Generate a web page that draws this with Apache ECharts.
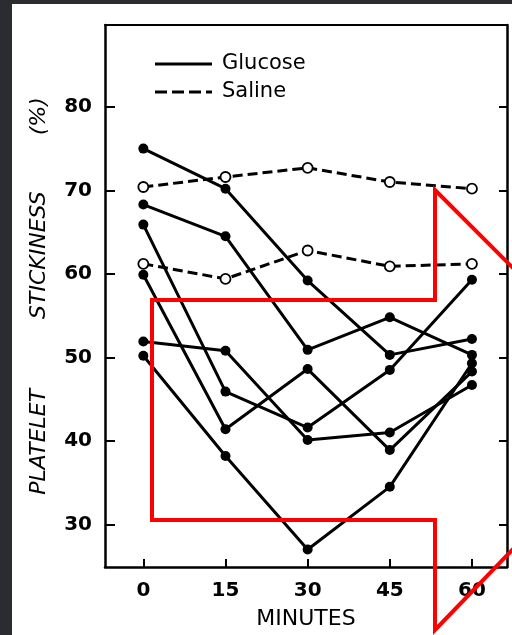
<!DOCTYPE html>
<html>
<head>
<meta charset="utf-8">
<script src="https://cdn.jsdelivr.net/npm/echarts@6/dist/echarts.min.js"></script>
<style>
  html, body { margin: 0; padding: 0; }
  body { width: 512px; height: 635px; background: #2a2c2f; position: relative; overflow: hidden; }
  #chart { position: absolute; left: 12px; top: 4px; width: 500px; height: 631px; background: #ffffff; }
</style>
</head>
<body>
<div id="chart"></div>
<script>
// ---- data ----
const minutes = [0, 15, 30, 45, 60];
const xTickValues = [0, 15, 30, 45, 60];
const yTickValues = [30, 40, 50, 60, 70, 80];

// Glucose subjects (platelet stickiness %)
const glucoseA = [75.0, 70.2, 59.2, 50.3, 52.2];
const glucoseB = [68.3, 64.5, 50.9, 54.8, 50.3];
const glucoseC = [65.9, 45.9, 41.6, 48.5, 59.3];
const glucoseD = [59.9, 41.4, 48.6, 38.9, 48.3];
const glucoseE = [51.9, 50.8, 40.1, 41.0, 46.7];
const glucoseF = [50.2, 38.2, 27.0, 34.5, 49.3];

// Saline subjects
const salineA = [70.4, 71.6, 72.7, 71.0, 70.2];
const salineB = [61.2, 59.4, 62.8, 60.9, 61.2];

const glucoseSets = [glucoseA, glucoseB, glucoseC, glucoseD, glucoseE, glucoseF];
const salineSets = [salineA, salineB];

const FONT = '"DejaVu Sans", sans-serif';
const pairs = vals => minutes.map((m, i) => [m, vals[i]]);

const series = [];
salineSets.forEach(v => series.push({
  name: 'Saline', type: 'line', data: pairs(v),
  symbol: 'circle', symbolSize: 10,
  lineStyle: { color: '#000', width: 3, type: [10, 5] },
  itemStyle: { color: '#fff', borderColor: '#000', borderWidth: 1.8 },
  z: 3, animation: false
}));
glucoseSets.forEach(v => series.push({
  name: 'Glucose', type: 'line', data: pairs(v),
  symbol: 'circle', symbolSize: 10,
  lineStyle: { color: '#000', width: 3 },
  itemStyle: { color: '#000' },
  z: 4, animation: false
}));

const chart = echarts.init(document.getElementById('chart'), null, { renderer: 'canvas' });
chart.setOption({
  backgroundColor: '#ffffff',
  animation: false,
  grid: { left: 93, right: 5, top: 21, bottom: 65 },
  legend: {
    orient: 'vertical', left: 138, top: 44,
    itemWidth: 57, itemHeight: 3, itemGap: 6,
    textStyle: { fontFamily: FONT, fontSize: 21, color: '#000', lineHeight: 22, padding: [0, 0, 0, 5] },
    data: [
      { name: 'Glucose', icon: 'path://M0 0H57V3H0Z', itemStyle: { color: '#000', borderWidth: 0 } },
      { name: 'Saline', icon: 'path://M0 0H12V3H0Z M17 0H29V3H17Z M34 0H46V3H34Z M51 0H57V3H51Z', itemStyle: { color: '#000', borderWidth: 0 } }
    ]
  },
  xAxis: [{
    type: 'value', min: -7, max: 66.4,
    name: 'MINUTES', nameLocation: 'middle', nameGap: 41,
    nameTextStyle: { fontFamily: FONT, fontSize: 22, color: '#000' },
    axisLine: { show: true, lineStyle: { color: '#000', width: 2.5 } },
    axisTick: { show: true, inside: true, length: 8, customValues: xTickValues, lineStyle: { color: '#000', width: 2 } },
    axisLabel: { customValues: xTickValues, margin: 14, fontFamily: FONT, fontSize: 20, fontWeight: 'bold', color: '#000' },
    splitLine: { show: false }
  }, {
    type: 'value', min: -7, max: 66.4, position: 'top',
    axisLine: { show: true, onZero: false, lineStyle: { color: '#000', width: 2 } },
    axisTick: { show: false }, axisLabel: { show: false }, splitLine: { show: false }
  }],
  yAxis: [{
    type: 'value', min: 24.9, max: 89.8,
    name: 'PLATELET          STICKINESS        (%)', nameLocation: 'middle', nameGap: 55,
    nameTextStyle: { fontFamily: FONT, fontSize: 22, fontStyle: 'italic', color: '#000' },
    axisLine: { show: true, onZero: false, lineStyle: { color: '#000', width: 2.5 } },
    axisTick: { show: true, inside: true, length: 10, customValues: yTickValues, lineStyle: { color: '#000', width: 2 } },
    axisLabel: { customValues: yTickValues, margin: 13, fontFamily: FONT, fontSize: 20, fontWeight: 'bold', color: '#000' },
    splitLine: { show: false }
  }, {
    type: 'value', min: 24.9, max: 89.8, position: 'right',
    axisLine: { show: true, onZero: false, lineStyle: { color: '#000', width: 2.5 } },
    axisTick: { show: true, inside: true, length: 8, customValues: yTickValues, lineStyle: { color: '#000', width: 2 } },
    axisLabel: { show: false }, splitLine: { show: false }
  }],
  series: series,
  graphic: [{
    type: 'polygon', z: 100, silent: true,
    shape: { points: [[423, 186], [639, 402], [423, 626], [423, 516], [140, 516], [140, 296], [423, 296]] },
    style: { fill: 'none', stroke: '#ff0000', lineWidth: 4, lineJoin: 'miter' }
  }]
});
</script>
</body>
</html>
